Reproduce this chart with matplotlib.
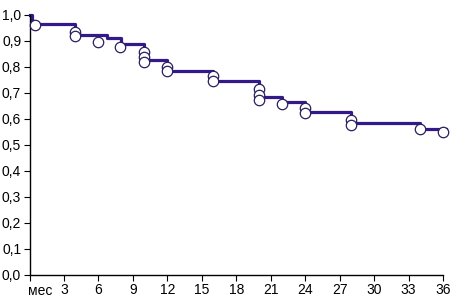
import matplotlib
matplotlib.use("Agg")
import matplotlib.pyplot as plt

# Kaplan-Meier: ступеньки кривой
step_t = [0, 0.25, 4, 6.75, 8, 10, 12, 16, 20, 22, 24, 28, 34, 36.3]
step_s = [1.0, 0.965, 0.923, 0.91, 0.888, 0.827, 0.785, 0.746, 0.686, 0.667, 0.628, 0.586, 0.56, 0.56]

# цензурированные наблюдения
cens_t = [0.5, 4, 4, 6, 7.9, 10, 10, 10, 12, 12, 16, 16, 20, 20, 20, 22, 24, 24, 28, 28, 34, 36]
cens_s = [0.96, 0.935, 0.92, 0.895, 0.877, 0.858, 0.838, 0.819, 0.80, 0.785, 0.765, 0.746,
          0.715, 0.692, 0.673, 0.658, 0.642, 0.623, 0.596, 0.577, 0.56, 0.55]

x_ticks = [0, 3, 6, 9, 12, 15, 18, 21, 24, 27, 30, 33, 36]
x_labels = [""] + [str(v) for v in x_ticks[1:]]
y_ticks = [i / 10 for i in range(11)]
y_labels = [f"{v:.1f}".replace(".", ",") for v in y_ticks]

plt.rcParams["font.family"] = ["Liberation Sans Narrow", "Liberation Sans", "DejaVu Sans"]

fig = plt.figure(figsize=(4.51, 3.02), dpi=100)
ax = fig.add_axes([29.5 / 451, 27 / 302, 413.5 / 451, 260 / 302])

line_color = "#33198a"
ax.plot(step_t, step_s, drawstyle="steps-post", color=line_color, lw=2.3,
        clip_on=False, zorder=2)
ax.plot(cens_t, cens_s, "o", ms=7.5, mfc="white", mec="#2a1f5e", mew=0.9,
        clip_on=False, zorder=3)

ax.set_xlim(0, 36)
ax.set_ylim(0, 1.0)
ax.set_xticks(x_ticks)
ax.set_xticklabels(x_labels, fontsize=10)
ax.set_yticks(y_ticks)
ax.set_yticklabels(y_labels, fontsize=10)
ax.tick_params(length=4, width=0.8, pad=2)
ax.text(0.9, -0.035, "мес", transform=ax.get_xaxis_transform(), ha="center",
        va="top", fontsize=10)

for s in ["top", "right"]:
    ax.spines[s].set_visible(False)
for s in ["left", "bottom"]:
    ax.spines[s].set_linewidth(1.0)

fig.savefig("out.png", dpi=100)
